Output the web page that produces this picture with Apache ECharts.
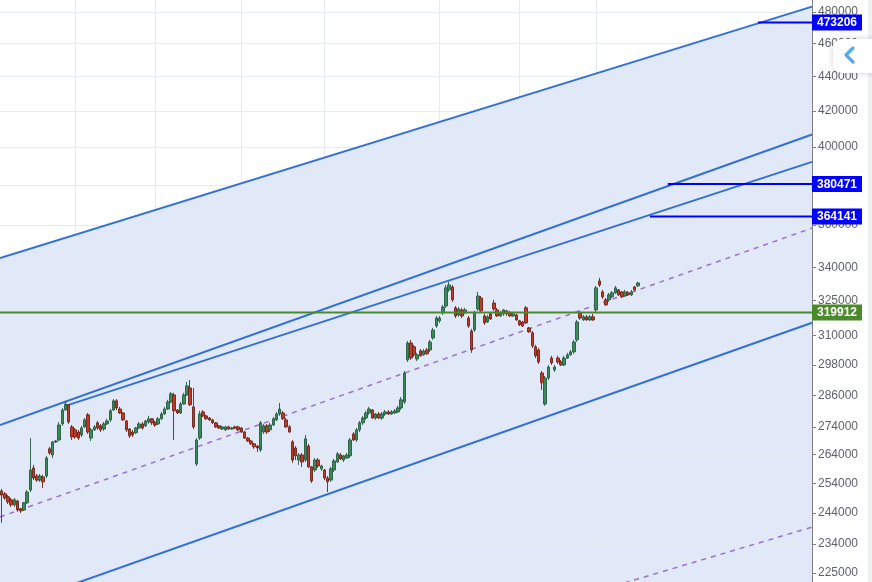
<!DOCTYPE html>
<html><head><meta charset="utf-8">
<script src="https://cdn.jsdelivr.net/npm/echarts@6/dist/echarts.min.js"></script>
<style>html,body{margin:0;padding:0;background:#fff}#c{width:872px;height:582px}</style>
</head><body><div id="c"></div>
<script>
// ---- data ----
const priceTicks = [225000,234000,244000,254000,264000,274000,286000,298000,310000,325000,340000,360000,380000,400000,420000,440000,460000,480000];
const timeTicks = [23,48,75,101,137,162,186];
// [open, close, low, high]
const candles = [
[251400,250000,240800,252100],[250400,249000,248400,251000],[249400,247700,247000,250000],[248400,246700,246000,249000],
[246700,248400,246000,249000],[248000,245000,244400,248400],[245400,244700,244000,245700],[245000,247400,244700,247700],
[247400,251000,247000,251700],[251700,258600,251000,270000],[259300,255800,255100,260400],[256500,255100,254500,257200],
[255100,256500,254500,257200],[256200,254500,252400,256900],[256500,262800,255800,263600],[266100,264600,263900,266800],
[263900,268600,262800,268900],[268600,268900,268200,269300],[269300,274800,268900,275900],[275200,280400,274500,281200],
[280400,282700,280100,283900],[282400,275900,275200,282700],[274100,270400,269300,274800],[273000,270400,269700,273700],
[272200,270000,269300,273000],[271100,273700,270400,274500],[274100,276700,273700,277400],[278600,272200,271500,279300],
[270000,273000,268900,273700],[273000,274100,272600,274800],[275600,273700,273000,276300],[274500,273000,272200,275200],
[273300,275200,272600,275900],[275200,276300,274800,277100],[276700,280100,275900,280800],[280400,283900,280100,284600],
[283900,281200,280400,284600],[280800,279300,278900,281600],[279300,276700,276300,279700],[276300,273000,272200,276700],
[273300,270800,270000,273700],[272200,271100,270400,273000],[271900,273700,271500,274100],[273700,275200,273300,275900],
[275200,273700,273000,275900],[274500,276300,274100,276700],[275900,277100,275200,278200],[277100,275600,274800,277400],
[275900,274800,274100,276300],[275200,277100,274800,277800],[277100,278900,276700,279700],[278900,280800,278600,281600],
[280800,283500,280400,284300],[283500,286600,283100,287300],[286200,280100,269300,287000],[280400,279300,278900,280800],
[279300,282700,278900,283500],[282700,286200,282400,287000],[286200,289700,285800,291300],[288900,282400,282000,292000],
[281600,274100,273300,288900],[260700,269300,260000,270000],[270000,278900,269300,280100],[279700,278200,277800,280400],
[278200,277100,276700,278600],[277400,276700,276300,277800],[276700,275600,275200,277100],[275600,274100,273700,275900],
[274500,273700,273300,274800],[273300,274100,273000,274500],[273000,274100,272600,274500],[274100,273300,273000,274500],
[273300,273700,273000,274100],[274100,273700,273300,274500],[274100,273000,272600,274500],[273700,272200,271900,274100],
[272200,270000,269700,272600],[270000,268900,268600,270400],[268900,267900,267500,269300],[267900,266800,266100,268200],
[267100,266400,265000,267500],[265700,275600,265000,276300],[272200,274500,271500,275200],[274500,272200,271500,275200],
[273000,274800,272200,275600],[274800,277100,274500,277800],[276700,278900,276300,279700],[278900,280800,278200,283100],
[279300,277100,276700,280100],[276700,274100,273700,277400],[274100,272200,271900,274800],[268600,262100,261100,269300],
[266400,263600,262100,267100],[262100,263900,260400,264600],[263900,261400,259700,264600],[262100,269700,261400,271100],
[267100,259700,259300,267900],[259700,254800,254100,260000],[258600,262100,257900,262800],[262100,260000,259300,262800],
[259000,260000,258300,260400],[258600,255800,255100,259000],[255800,254500,251000,256500],[255100,259000,254500,259700],
[258600,261800,257900,262500],[261400,264300,261100,265000],[263900,262500,262100,264600],[262100,263600,261400,263900],
[262800,263900,262500,264600],[263600,269300,262800,270000],[271500,269300,268900,272200],[269300,273000,268600,273700],
[273000,275600,272200,276300],[275600,277400,274800,278200],[277400,279300,276700,280100],[279300,280800,278600,281600],
[280400,277400,277100,280800],[277400,278900,276700,279300],[278900,277400,277100,279700],[277400,278900,276700,279700],
[278900,279700,278200,280400],[279700,278900,278600,280400],[278900,279700,278600,280400],[279300,280100,278900,280800],
[279700,281200,279300,282000],[281200,284300,280400,285400],[283500,294800,282700,295600],[300000,307000,299200,307800],
[307000,300800,300000,308300],[305400,302100,301300,306200],[300400,302100,299600,302900],[303700,301700,301300,304500],
[302100,303700,301700,304500],[304100,302500,302100,304900],[304100,307400,303300,308300],[309100,312400,308300,313300],
[314100,317500,313300,318400],[316300,317500,315400,318400],[319700,322300,318800,323200],[322700,330700,321900,332000],
[329800,332000,328900,333400],[331100,325400,324500,332000],[321900,318400,317500,322700],[318800,321400,318000,322300],
[321000,318400,317500,321900],[319700,321000,319300,321900],[317500,314100,313300,318400],[312000,304100,302900,312900],
[312400,319700,311600,320600],[321400,327100,320600,328900],[326200,320600,319700,327100],[318400,315400,314600,319300],
[315800,318000,315400,318800],[319300,317100,316700,319700],[324000,321400,320600,325400],[321000,318400,318000,321900],
[318400,319700,318000,320600],[319300,321000,318400,321400],[320600,319300,318400,321000],[319700,318400,318000,320600],
[318400,319300,318000,320100],[318800,316700,316300,319300],[316300,314600,314100,316700],[315800,314100,313700,316300],
[321900,315400,315000,322700],[313300,311600,311200,313700],[311200,305800,304900,312000],[305400,301700,300800,306200],
[304100,299200,298400,304900],[294800,290900,288100,295600],[282700,292800,282000,293600],[292800,297200,292000,298000],
[300800,298800,298000,301700],[296000,297200,295200,298000],[300800,299200,298400,301700],[299200,298000,297600,300000],
[298000,300800,297600,301700],[300800,302100,300400,302900],[302100,303300,301700,304100],[303300,307400,302500,308300],
[308300,315800,307400,316700],[319700,317500,316700,320600],[316700,318000,316300,318800],[318000,316700,316300,318800],
[316700,318000,316300,318800],[318000,316700,316300,319300],[321000,330700,320100,331600],[333800,332000,331100,335200],
[328900,326700,325800,329800],[325400,323200,322700,326200],[325400,327600,324500,328500],[326700,328500,326200,329300],
[328500,330700,328000,331600],[329800,327600,327100,330200],[328900,326700,326200,329300],[327100,328900,326700,329800],
[328500,327600,327100,329300],[327600,328900,327100,329800],[331100,329800,329300,331600],[331600,332900,331100,333400]
];
// channel lines: [[barIndex, price], [barIndex, price]]
const channelTop    = [[-0.5,344300],[253.5,483450]];
const channelUpper  = [[-0.5,274800],[253.5,406800]];
const channelInner  = [[20,282000],[253.5,392000]];
const channelMedian = [[-0.5,242700],[253.5,358500]];
const channelLower  = [[-0.5,214000],[253.5,315500]];
const channelBottom = [[155.9,211200],[253.5,239400]];
// horizontal levels
const levelPrices = [473206, 380471, 364141, 319912];
const levelStarts = [236.6, 208.4, 202.8, -0.5];

// ---- styles ----
const levelColors = ['#0000ff','#0000ff','#0000ff','#4a8a2a'];
const X_MIN = -0.5, X_MAX = 253.5;
const Y_MIN = 222300, Y_MAX = 487800;
const L = Math.log;
const FONT = "'Liberation Sans', Arial, sans-serif";

function lineSeries(pts, color, width, type) {
  return {
    type: 'line', silent: true, z: 3, symbol: 'none', showSymbol: false,
    data: pts.map(p => [p[0], L(p[1])]),
    lineStyle: { color: color, width: width, type: type || 'solid' }
  };
}

const chart = echarts.init(document.getElementById('c'), null, { renderer: 'canvas' });
const option = {
  animation: false,
  backgroundColor: '#ffffff',
  grid: { left: 0, right: 60, top: 0, bottom: 0 },
  xAxis: {
    type: 'value', min: X_MIN, max: X_MAX,
    axisLine: { show: false, onZero: false },
    axisTick: { show: false, customValues: timeTicks },
    axisLabel: { show: false },
    splitLine: { show: true, lineStyle: { color: '#e5eaf2', width: 1 } }
  },
  yAxis: {
    type: 'value', position: 'right', min: L(Y_MIN), max: L(Y_MAX),
    axisLine: { show: true, onZero: false, lineStyle: { color: '#7d8088', width: 1 } },
    axisTick: { show: true, inside: false, length: 4, customValues: priceTicks.map(L), lineStyle: { color: '#7d8088' } },
    axisLabel: {
      customValues: priceTicks.map(L), margin: 6, color: '#5f626a', fontSize: 12, fontFamily: FONT,
      formatter: function (v) {
        let best = priceTicks[0];
        priceTicks.forEach(t => { if (Math.abs(L(t) - v) < Math.abs(L(best) - v)) best = t; });
        return String(best);
      }
    },
    splitLine: { show: true, lineStyle: { color: '#e5eaf2', width: 1 } }
  },
  graphic: [
    { type: 'rect', z: 100, shape: { x: 868, y: 0, width: 4, height: 582 }, style: { fill: '#eef0f3' } },
    { type: 'rect', z: 101, shape: { x: 833, y: 39, width: 60, height: 34, r: 9 },
      style: { fill: '#ffffff', shadowBlur: 6, shadowColor: 'rgba(0,0,0,0.18)' } },
    { type: 'polyline', z: 102, shape: { points: [[853, 48], [846, 55], [853, 62]] },
      style: { stroke: '#56a8f2', lineWidth: 3.2, fill: null, lineCap: 'round', lineJoin: 'round' } }
  ],
  series: [
    {
      type: 'custom', z: -1, silent: true,
      data: [[channelTop[0][0], L(channelTop[0][1])]],
      renderItem: function (params, api) {
        const a = api.coord([channelTop[0][0], L(channelTop[0][1])]);
        const b = api.coord([channelTop[1][0], L(channelTop[1][1])]);
        const c = api.coord([X_MAX, L(Y_MIN)]);
        const d = api.coord([X_MIN, L(Y_MIN)]);
        return { type: 'polygon', shape: { points: [a, b, c, d] }, style: { fill: '#e1e9f8' } };
      }
    },
    lineSeries(channelTop, '#3270d8', 2),
    lineSeries(channelUpper, '#3270d8', 2),
    lineSeries(channelInner, '#3270d8', 2),
    lineSeries(channelLower, '#3270d8', 2),
    lineSeries(channelMedian, '#9b6fcf', 1.5, [5, 5]),
    lineSeries(channelBottom, '#9b6fcf', 1.5, [5, 5]),
    {
      type: 'candlestick', z: 4, silent: true,
      barWidth: 3,
      encode: { x: 0, y: [1, 2, 3, 4] },
      data: candles.map((d, i) => [i, L(d[0]), L(d[1]), L(d[2]), L(d[3])]),
      itemStyle: { color: '#3a8a5a', color0: '#bf3a27', borderColor: '#275a3d', borderColor0: '#6f2216', borderWidth: 0.9 }
    },
    {
      type: 'custom', z: 6, silent: true, clip: false,
      data: levelPrices.map((p, i) => [levelStarts[i], L(p), i]),
      renderItem: function (params, api) {
        const i = api.value(2);
        const s = api.coord([api.value(0), api.value(1)]);
        const e = api.coord([X_MAX, api.value(1)]);
        const col = levelColors[i];
        return {
          type: 'group',
          children: [
            { type: 'line', shape: { x1: s[0], y1: s[1], x2: e[0], y2: e[1] }, style: { stroke: col, lineWidth: 2 } },
            { type: 'rect', shape: { x: e[0], y: e[1] - 8, width: 50, height: 16 }, style: { fill: col } },
            { type: 'text', style: { text: String(levelPrices[i]), x: e[0] + 25, y: e[1] + 0.5, align: 'center', verticalAlign: 'middle',
              fill: '#ffffff', font: 'bold 12px ' + FONT } }
          ]
        };
      }
    }
  ]
};
chart.setOption(option);
</script>
</body></html>
